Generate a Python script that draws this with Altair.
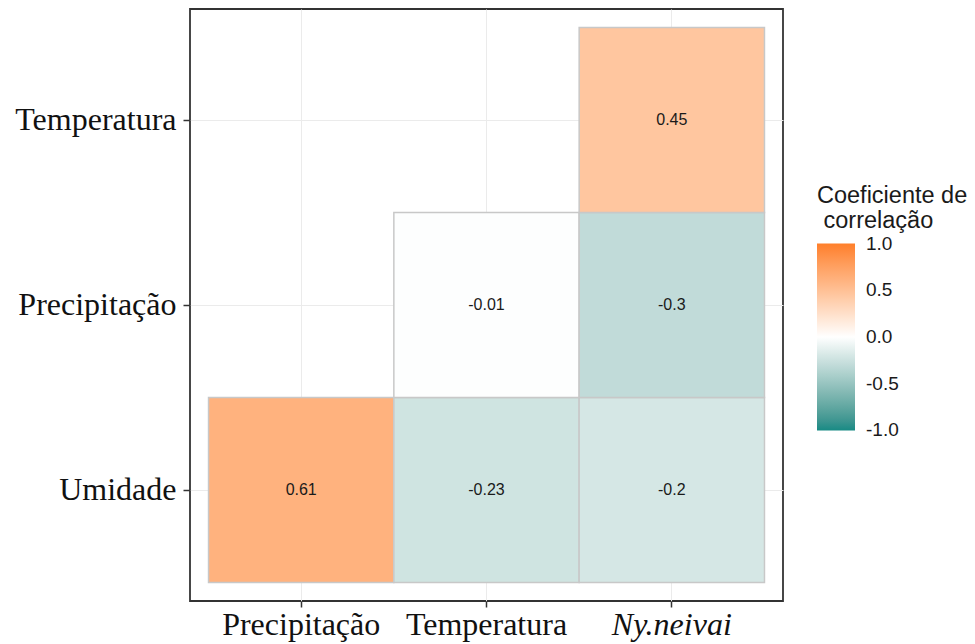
import altair as alt
import pandas as pd

x_vars = ["Precipitação", "Temperatura", "Ny.neivai", "Temperatura", "Ny.neivai", "Ny.neivai"]
y_vars = ["Umidade", "Umidade", "Umidade", "Precipitação", "Precipitação", "Temperatura"]
corr = [0.61, -0.23, -0.2, -0.01, -0.3, 0.45]

x_order = ["Precipitação", "Temperatura", "Ny.neivai"]
y_order = ["Temperatura", "Precipitação", "Umidade"]
# end values nudged inside so that Vega centres the end labels on the gradient ends
legend_values = [-0.9999, -0.5, 0, 0.5, 0.9999]

df = pd.DataFrame({"x": x_vars, "y": y_vars, "r": corr})
df["label"] = [str(v) for v in corr]

xs = alt.Scale(domain=x_order, paddingInner=0, paddingOuter=0.1)
ys = alt.Scale(domain=y_order, paddingInner=0, paddingOuter=0.1)

xenc = alt.X("x:N", scale=xs, sort=x_order, title=None,
             axis=alt.Axis(labelAngle=0, labelFont="Liberation Serif", labelFontSize=32,
                           labelColor="#111111", labelPadding=2, tickSize=6, tickWidth=1.5,
                           tickColor="#333333", domain=False, grid=True, gridColor="#EBEBEB",
                           gridWidth=1, bandPosition=0.5, tickBand="center", zindex=0,
                           labelFontStyle=alt.ExprRef("datum.value == 'Ny.neivai' ? 'italic' : 'normal'")))
yenc = alt.Y("y:N", scale=ys, sort=y_order, title=None,
             axis=alt.Axis(labelFont="Liberation Serif", labelFontSize=32, labelColor="#111111",
                           labelPadding=7, tickSize=7, tickWidth=1.5, tickColor="#333333",
                           domain=False, grid=True, gridColor="#EBEBEB", gridWidth=1,
                           bandPosition=0.5, tickBand="center", zindex=0))

color = alt.Color("r:Q",
                  scale=alt.Scale(domain=[-1, 0, 1], range=["#178A84", "#FFFFFF", "#FF7F2A"],
                                  interpolate="lab"),
                  legend=alt.Legend(title=["Coeficiente de", "\u200b\u00a0correlação"],
                                    titleFont="Liberation Sans", titleFontSize=23.5,
                                    titleFontWeight="normal", titleColor="#1a1a1a",
                                    titleLineHeight=25, titlePadding=11,
                                    orient="none", legendX=627, legendY=175,
                                    gradientLength=187, gradientThickness=38,
                                    values=legend_values,
                                    labelExpr="replace(format(datum.value, '.1f'), '\u2212', '-')",
                                    labelFont="Liberation Sans", labelFontSize=19,
                                    labelColor="#1a1a1a", labelBaseline="middle",
                                    labelOffset=11, gradientStrokeWidth=0,
                                    direction="vertical"))

tiles = alt.Chart(df).mark_rect(stroke="#C8C8C8", strokeWidth=1.5).encode(
    x=xenc, y=yenc, color=color)

text = alt.Chart(df).mark_text(font="Liberation Sans", fontSize=16, color="#1a1a1a").encode(
    x=alt.X("x:N", scale=xs, sort=x_order),
    y=alt.Y("y:N", scale=ys, sort=y_order),
    text="label:N")

chart = (tiles + text).properties(
    width=593, height=592,
    background="white",
    autosize=alt.AutoSizeParams(type="none"),
    padding={"left": 190, "top": 9, "right": 192, "bottom": 43},
).configure_view(stroke="#333333", strokeWidth=1.8)

chart.save("out.html", embed_options={"renderer": "svg", "actions": False})
